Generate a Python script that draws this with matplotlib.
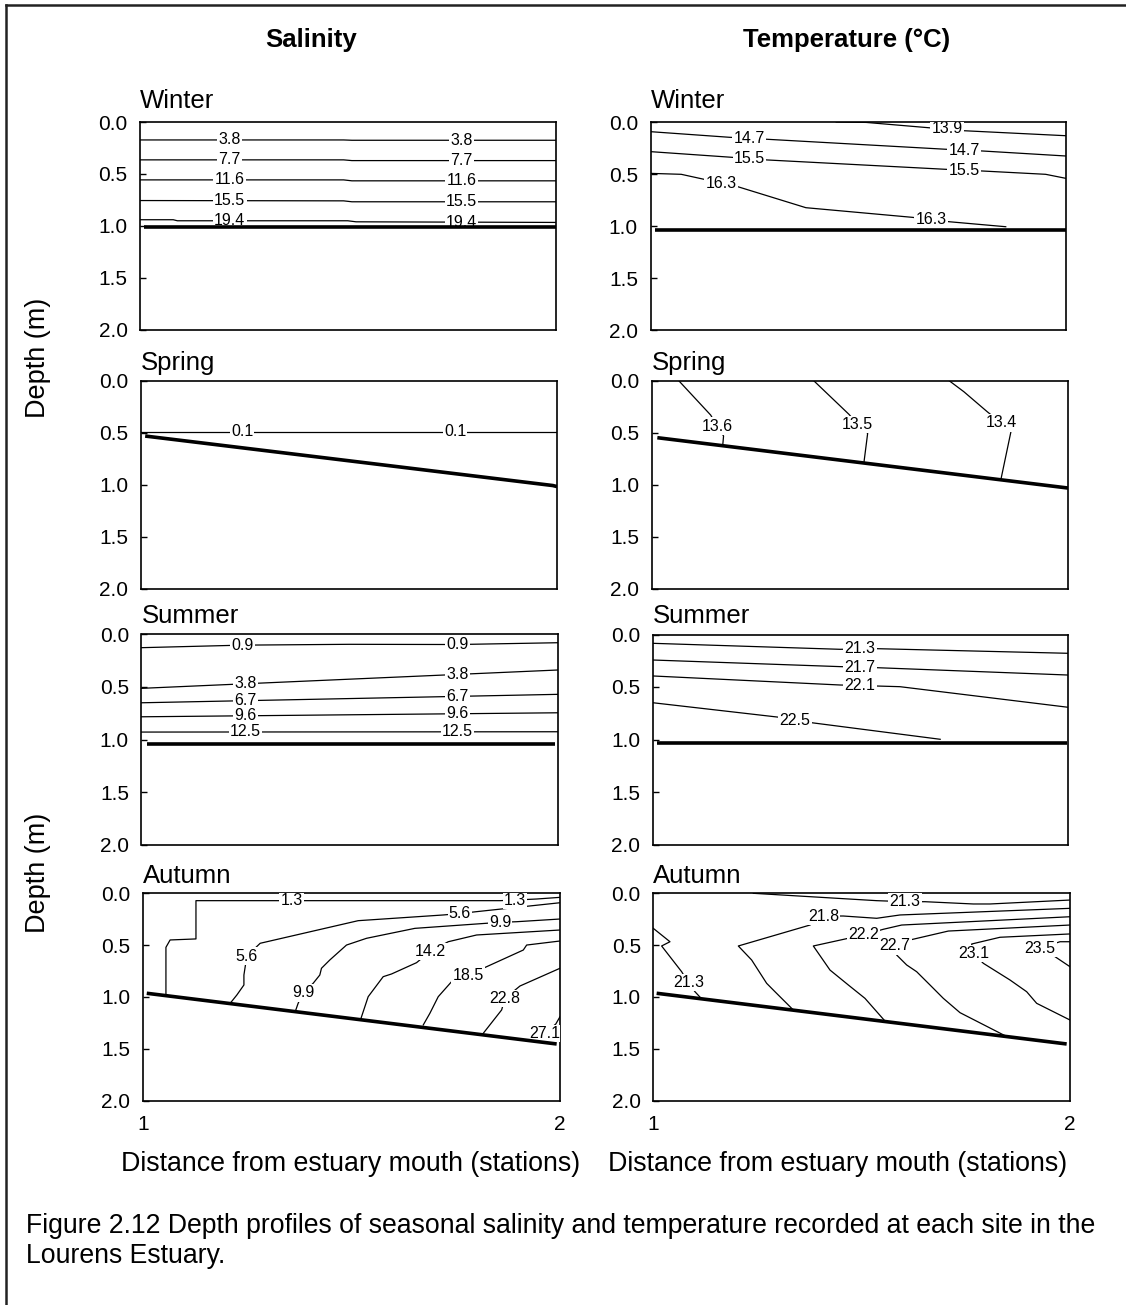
import matplotlib
matplotlib.use("Agg")
import matplotlib.pyplot as plt
from matplotlib.lines import Line2D

plt.rcParams['font.family'] = ['Liberation Sans', 'DejaVu Sans']

W, H = 1126, 1305

# isolines: (label, vertices as (station, depth), label anchors)
sal_winter = [
    ("3.8", [(1.0, 0.173), (1.49, 0.173), (1.51, 0.176), (2.0, 0.176)], [(1.216, 0.173), (1.774, 0.176)]),
    ("7.7", [(1.0, 0.365), (1.49, 0.365), (1.51, 0.372), (2.0, 0.372)], [(1.216, 0.365), (1.774, 0.372)]),
    ("11.6", [(1.0, 0.558), (1.49, 0.558), (1.51, 0.567), (2.0, 0.567)], [(1.216, 0.558), (1.774, 0.567)]),
    ("15.5", [(1.0, 0.757), (1.49, 0.76), (1.51, 0.769), (2.0, 0.769)], [(1.216, 0.758), (1.774, 0.769)]),
    ("19.4", [(1.0, 0.942), (1.08, 0.942), (1.09, 0.952), (1.5, 0.952), (1.52, 0.962), (2.0, 0.968)],
     [(1.216, 0.952), (1.774, 0.965)]),
]
sal_winter_bed = [(1.01, 1.016), (2.0, 1.016)]

temp_winter = [
    ("13.9", [(1.447, 0.0), (1.519, 0.004), (1.678, 0.058), (1.714, 0.063), (1.755, 0.084), (2.0, 0.132)],
     [(1.714, 0.063)]),
    ("14.7", [(1.0, 0.093), (1.19, 0.147), (1.238, 0.156), (1.28, 0.166), (1.71, 0.262), (1.755, 0.27),
              (1.8, 0.279), (2.0, 0.327)], [(1.238, 0.156), (1.755, 0.27)]),
    ("15.5", [(1.0, 0.285), (1.194, 0.339), (1.238, 0.352), (1.281, 0.365), (1.711, 0.455), (1.755, 0.463),
              (1.798, 0.471), (1.951, 0.503), (2.0, 0.542)], [(1.238, 0.352), (1.755, 0.463)]),
    ("16.3", [(1.0, 0.494), (1.074, 0.503), (1.17, 0.587), (1.21, 0.622), (1.374, 0.824), (1.631, 0.917),
              (1.675, 0.94), (1.719, 0.959), (1.855, 1.007)], [(1.17, 0.587), (1.675, 0.94)]),
]
temp_winter_bed = [(1.01, 1.038), (2.0, 1.038)]

sal_spring = [
    ("0.1", [(1.0, 0.495), (2.0, 0.495)], [(1.243, 0.495), (1.755, 0.495)]),
]
sal_spring_bed = [(1.01, 0.534), (1.99, 1.01), (2.0, 1.02)]

temp_spring = [
    ("13.6", [(1.065, 0.0), (1.142, 0.332), (1.158, 0.438), (1.173, 0.534), (1.171, 0.625)], [(1.158, 0.438)]),
    ("13.5", [(1.389, 0.0), (1.474, 0.325), (1.495, 0.421), (1.519, 0.508), (1.51, 0.79)], [(1.495, 0.421)]),
    ("13.4", [(1.714, 0.0), (1.75, 0.108), (1.806, 0.3), (1.839, 0.406), (1.863, 0.492), (1.839, 0.95)],
     [(1.839, 0.406)]),
]
temp_spring_bed = [(1.014, 0.55), (2.0, 1.034)]

sal_summer = [
    ("0.9", [(1.0, 0.127), (1.24, 0.103), (1.5, 0.095), (1.76, 0.097), (2.0, 0.08)], [(1.243, 0.103), (1.76, 0.097)]),
    ("3.8", [(1.0, 0.513), (2.0, 0.339)], [(1.25, 0.47), (1.76, 0.381)]),
    ("6.7", [(1.0, 0.65), (2.0, 0.57)], [(1.25, 0.63), (1.76, 0.589)]),
    ("9.6", [(1.0, 0.783), (2.0, 0.745)], [(1.25, 0.773), (1.76, 0.754)]),
    ("12.5", [(1.0, 0.928), (2.0, 0.925)], [(1.25, 0.927), (1.76, 0.926)]),
]
sal_summer_bed = [(1.013, 1.042), (1.995, 1.042)]

temp_summer = [
    ("21.3", [(1.0, 0.084), (1.451, 0.141), (1.499, 0.138), (1.539, 0.135), (2.0, 0.179)], [(1.499, 0.138)]),
    ("21.7", [(1.0, 0.243), (1.451, 0.306), (1.499, 0.311), (1.539, 0.316), (2.0, 0.386)], [(1.499, 0.311)]),
    ("22.1", [(1.0, 0.395), (1.451, 0.481), (1.499, 0.486), (1.595, 0.497), (2.0, 0.693)], [(1.499, 0.486)]),
    ("22.5", [(1.0, 0.65), (1.306, 0.789), (1.342, 0.815), (1.382, 0.84), (1.692, 0.998)], [(1.342, 0.815)]),
]
temp_summer_bed = [(1.009, 1.03), (1.997, 1.03)]

sal_autumn = [
    ("1.3", [(1.055, 0.985), (1.055, 0.521), (1.065, 0.45), (1.127, 0.44), (1.127, 0.071), (1.357, 0.071),
             (1.856, 0.071), (1.892, 0.065), (1.944, 0.055), (2.0, 0.039)], [(1.357, 0.071), (1.892, 0.065)]),
    ("5.6", [(1.209, 1.061), (1.225, 0.981), (1.242, 0.884), (1.242, 0.788), (1.249, 0.605), (1.281, 0.482),
             (1.516, 0.264), (1.72, 0.209), (1.76, 0.195), (1.8, 0.177), (2.0, 0.091)],
     [(1.249, 0.605), (1.76, 0.195)]),
    ("9.9", [(1.365, 1.142), (1.372, 1.061), (1.384, 0.961), (1.408, 0.868), (1.424, 0.788), (1.428, 0.723),
             (1.448, 0.643), (1.488, 0.499), (1.536, 0.434), (1.652, 0.338), (1.824, 0.289), (1.856, 0.28),
             (1.896, 0.274), (2.0, 0.248)], [(1.384, 0.961), (1.856, 0.28)]),
    ("14.2", [(1.522, 1.215), (1.54, 0.997), (1.576, 0.804), (1.596, 0.778), (1.656, 0.669), (1.688, 0.563),
              (1.732, 0.467), (1.8, 0.402), (2.0, 0.354)], [(1.688, 0.563)]),
    ("18.5", [(1.672, 1.27), (1.688, 1.157), (1.708, 0.997), (1.74, 0.852), (1.78, 0.788), (1.824, 0.708),
              (1.912, 0.547), (1.92, 0.499), (2.0, 0.46)], [(1.78, 0.788)]),
    ("22.8", [(1.816, 1.35), (1.86, 1.125), (1.868, 1.013), (1.904, 0.894), (2.0, 0.723)], [(1.868, 1.013)]),
    ("27.1", [(2.0, 1.19), (1.99, 1.26), (1.964, 1.35)], [(1.964, 1.35)]),
]
sal_autumn_bed = [(1.009, 0.964), (1.992, 1.453)]

temp_autumn = [
    ("21.3", [(1.24, 0.0), (1.536, 0.071), (1.604, 0.081), (1.652, 0.081), (1.768, 0.103), (1.808, 0.103),
              (2.0, 0.065)], [(1.604, 0.081)]),
    ("21.8", [(1.336, 1.125), (1.292, 0.949), (1.272, 0.868), (1.236, 0.643), (1.204, 0.508), (1.376, 0.306),
              (1.408, 0.219), (1.456, 0.219), (1.536, 0.241), (1.592, 0.209), (2.0, 0.145)], [(1.408, 0.219)]),
    ("22.2", [(1.556, 1.232), (1.508, 1.013), (1.468, 0.884), (1.424, 0.74), (1.384, 0.508), (1.504, 0.402),
              (1.552, 0.347), (1.596, 0.306), (2.0, 0.226)], [(1.504, 0.402)]),
    ("22.7", [(1.844, 1.373), (1.736, 1.151), (1.696, 1.013), (1.664, 0.884), (1.632, 0.756), (1.608, 0.691),
              (1.584, 0.595), (1.58, 0.508), (1.616, 0.45), (1.708, 0.364), (2.0, 0.306)], [(1.58, 0.508)]),
    ("23.1", [(2.0, 1.222), (1.92, 1.061), (1.896, 0.949), (1.856, 0.836), (1.792, 0.675), (1.768, 0.579),
              (1.764, 0.489), (1.832, 0.424), (2.0, 0.392)], [(1.768, 0.579)]),
    ("23.5", [(2.0, 0.467), (1.976, 0.467), (1.928, 0.53), (1.964, 0.611), (2.0, 0.708)], [(1.928, 0.53)]),
    ("21.3", [(1.0, 0.338), (1.04, 0.467), (1.02, 0.508), (1.068, 0.756), (1.084, 0.862), (1.1, 0.949),
              (1.116, 1.018)], [(1.084, 0.862)]),
]
temp_autumn_bed = [(1.008, 0.964), (1.992, 1.453)]

depth_ticks = [0.0, 0.5, 1.0, 1.5, 2.0]
station_ticks = [1, 2]


def add_panel(fig, rect, isolines, bed, season, baseline, bottom=False):
    x0, y0, x1, y1 = rect
    ax = fig.add_axes([x0 / W, 1 - y1 / H, (x1 - x0) / W, (y1 - y0) / H])
    for value, pts, marks in isolines:
        xs = [p[0] for p in pts]
        ds = [p[1] for p in pts]
        ax.plot(xs, ds, color='black', lw=0.9, zorder=2)
        for mx, md in marks:
            ax.text(mx, md, value, ha='center', va='center', fontsize=11.5, zorder=3, clip_on=True,
                    bbox=dict(boxstyle='square,pad=0.08', fc='white', ec='none'))
    ax.plot([p[0] for p in bed], [p[1] for p in bed], color='black', lw=2.6, zorder=4,
            solid_capstyle='butt')
    ax.set_xlim(1, 2)
    ax.set_ylim(2, 0)
    ax.set_yticks(depth_ticks)
    ax.set_yticklabels(['%.1f' % t for t in depth_ticks])
    ax.tick_params(axis='y', direction='in', length=4, width=1, pad=9, labelsize=15)
    if bottom:
        ax.set_xticks(station_ticks)
        ax.set_xticklabels([str(t) for t in station_ticks])
        ax.tick_params(axis='x', length=0, pad=10, labelsize=15)
    else:
        ax.set_xticks([])
    for s in ax.spines.values():
        s.set_linewidth(1.2)
    fig.text(x0 / W, 1 - baseline / H, season, fontsize=18.5, ha='left', va='baseline')
    return ax


fig = plt.figure(figsize=(W / 100, H / 100), dpi=100)

add_panel(fig, (140, 122, 555.5, 329.5), sal_winter, sal_winter_bed, 'Winter', 108.5)
add_panel(fig, (650.5, 122, 1066, 330), temp_winter, temp_winter_bed, 'Winter', 108.5)
add_panel(fig, (141, 380.5, 557, 588.5), sal_spring, sal_spring_bed, 'Spring', 370)
add_panel(fig, (651.5, 380.5, 1068, 588.5), temp_spring, temp_spring_bed, 'Spring', 370)
add_panel(fig, (141.5, 634.3, 557.5, 845), sal_summer, sal_summer_bed, 'Summer', 622.7)
add_panel(fig, (653, 634.5, 1068, 844.5), temp_summer, temp_summer_bed, 'Summer', 622.7)
add_panel(fig, (143, 893.3, 560, 1100.7), sal_autumn, sal_autumn_bed, 'Autumn', 882.7, bottom=True)
add_panel(fig, (653.3, 893.3, 1070, 1100.7), temp_autumn, temp_autumn_bed, 'Autumn', 882.7, bottom=True)

# column headings
fig.text(311 / W, 1 - 47 / H, 'Salinity', fontsize=18.5, fontweight='bold', ha='center', va='baseline')
fig.text(847 / W, 1 - 47 / H, 'Temperature (\u00b0C)', fontsize=18.5, fontweight='bold',
         ha='center', va='baseline')

# shared axis titles
for yc in (358, 873):
    fig.text(38 / W, 1 - yc / H, 'Depth (m)', fontsize=19.5, rotation=90, ha='center', va='center')
for xc in (351, 837.5):
    fig.text(xc / W, 1 - 1171 / H, 'Distance from estuary mouth (stations)', fontsize=19.3,
             ha='center', va='baseline')

# caption
fig.text(26.5 / W, 1 - 1232.7 / H,
         'Figure 2.12 Depth profiles of seasonal salinity and temperature recorded at each site in the',
         fontsize=19.2, ha='left', va='baseline')
fig.text(26.5 / W, 1 - 1263.3 / H, 'Lourens Estuary.', fontsize=19.2, ha='left', va='baseline')

# frame around the figure block
fig.add_artist(Line2D([5.5 / W, 5.5 / W], [0, 1 - 4.5 / H], transform=fig.transFigure, color='#222222', lw=1.8))
fig.add_artist(Line2D([5.5 / W, 1], [1 - 4.5 / H, 1 - 4.5 / H], transform=fig.transFigure, color='#222222', lw=1.8))

fig.savefig('out.png', dpi=100)
